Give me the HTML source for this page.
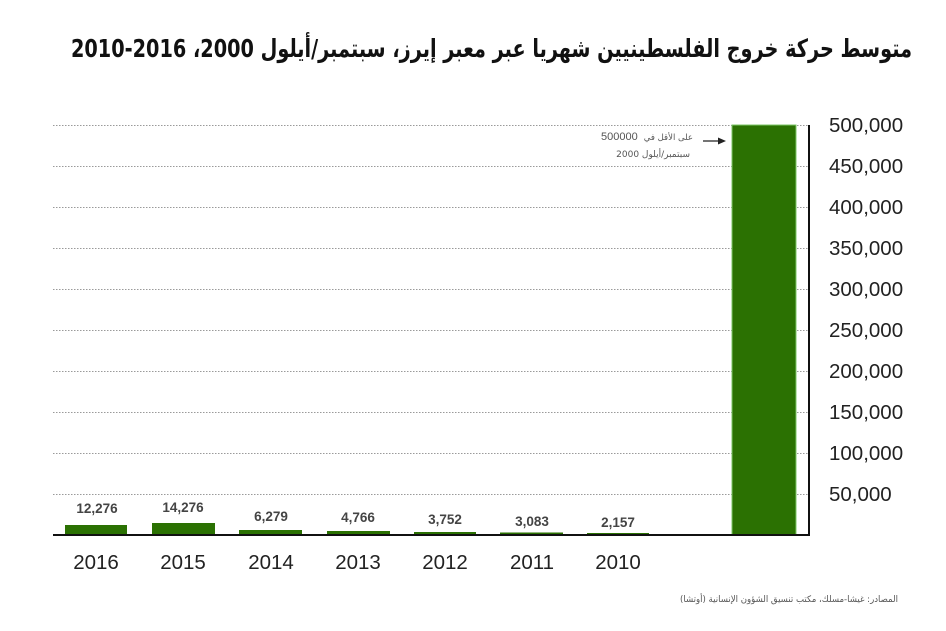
<!DOCTYPE html>
<html><head><meta charset="utf-8">
<style>
html,body{margin:0;padding:0;background:#fff;}
svg{display:block;}
</style></head>
<body>
<svg width="946" height="631" viewBox="0 0 946 631" xmlns="http://www.w3.org/2000/svg">
<rect width="946" height="631" fill="#fff"/>
<!-- title -->
<text x="912" y="57" direction="rtl" text-anchor="start" font-family="'DejaVu Sans', sans-serif" font-weight="bold" font-size="25" fill="#111" textLength="841" lengthAdjust="spacingAndGlyphs">متوسط حركة خروج الفلسطينيين شهريا عبر معبر إيرز، سبتمبر/أيلول 2000، 2016-2010</text>

<!-- gridlines -->
<g stroke="#9a9a9a" stroke-width="1" stroke-dasharray="1.5 1.5">
<line x1="53" x2="809" y1="125.5" y2="125.5"/>
<line x1="53" x2="809" y1="166.5" y2="166.5"/>
<line x1="53" x2="809" y1="207.5" y2="207.5"/>
<line x1="53" x2="809" y1="248.5" y2="248.5"/>
<line x1="53" x2="809" y1="289.5" y2="289.5"/>
<line x1="53" x2="809" y1="330.5" y2="330.5"/>
<line x1="53" x2="809" y1="371.5" y2="371.5"/>
<line x1="53" x2="809" y1="412.5" y2="412.5"/>
<line x1="53" x2="809" y1="453.5" y2="453.5"/>
<line x1="53" x2="809" y1="494.5" y2="494.5"/>
</g>

<!-- bars -->
<g fill="#2b7102">
<rect x="65" y="525" width="62" height="10"/>
<rect x="152" y="523" width="63" height="12"/>
<rect x="239" y="530" width="63" height="5"/>
<rect x="327" y="531" width="63" height="4"/>
<rect x="414" y="532" width="62" height="3"/>
<rect x="500" y="532.5" width="63" height="2.5"/>
<rect x="587" y="533" width="62" height="2"/>
<rect x="732" y="125" width="64" height="410" stroke="#7cc667" stroke-width="1"/>
</g>

<!-- axes -->
<line x1="53" x2="810" y1="535" y2="535" stroke="#111" stroke-width="2"/>
<line x1="809" x2="809" y1="125" y2="536" stroke="#111" stroke-width="2"/>

<!-- value labels -->
<g font-family="'Liberation Sans', sans-serif" font-weight="bold" font-size="13.5" fill="#444" text-anchor="middle">
<text x="97" y="513">12,276</text>
<text x="183" y="512">14,276</text>
<text x="271" y="521">6,279</text>
<text x="358" y="522">4,766</text>
<text x="445" y="524">3,752</text>
<text x="532" y="526">3,083</text>
<text x="618" y="527">2,157</text>
</g>

<!-- year labels -->
<g font-family="'Liberation Sans', sans-serif" font-size="20.5" fill="#222" text-anchor="middle">
<text x="96" y="569">2016</text>
<text x="183" y="569">2015</text>
<text x="271" y="569">2014</text>
<text x="358" y="569">2013</text>
<text x="445" y="569">2012</text>
<text x="532" y="569">2011</text>
<text x="618" y="569">2010</text>
</g>

<!-- y tick labels -->
<g font-family="'Liberation Sans', sans-serif" font-size="20.5" fill="#222">
<text x="829" y="132">500,000</text>
<text x="829" y="173">450,000</text>
<text x="829" y="214">400,000</text>
<text x="829" y="255">350,000</text>
<text x="829" y="296">300,000</text>
<text x="829" y="337">250,000</text>
<text x="829" y="378">200,000</text>
<text x="829" y="419">150,000</text>
<text x="829" y="460">100,000</text>
<text x="829" y="501">50,000</text>
</g>

<!-- annotation -->
<text x="601" y="140" font-family="'Liberation Sans', sans-serif" font-size="11" fill="#555">500000</text>
<text x="693" y="140" direction="rtl" text-anchor="start" font-family="'DejaVu Sans', sans-serif" font-size="8.5" fill="#555">على الأقل في</text>
<text x="690" y="157" direction="rtl" text-anchor="start" font-family="'DejaVu Sans', 'Liberation Sans', sans-serif" font-size="9" fill="#555">سبتمبر/أيلول 2000</text>
<line x1="703" x2="720" y1="141" y2="141" stroke="#222" stroke-width="1.3"/>
<polygon points="726,141 718,137.5 718,144.5" fill="#222"/>

<!-- source -->
<text x="898" y="602" direction="rtl" text-anchor="start" font-family="'DejaVu Sans', sans-serif" font-size="9" fill="#555" textLength="218" lengthAdjust="spacingAndGlyphs">المصادر: غيشا-مسلك، مكتب تنسيق الشؤون الإنسانية (أوتشا)</text>
</svg>
</body></html>
